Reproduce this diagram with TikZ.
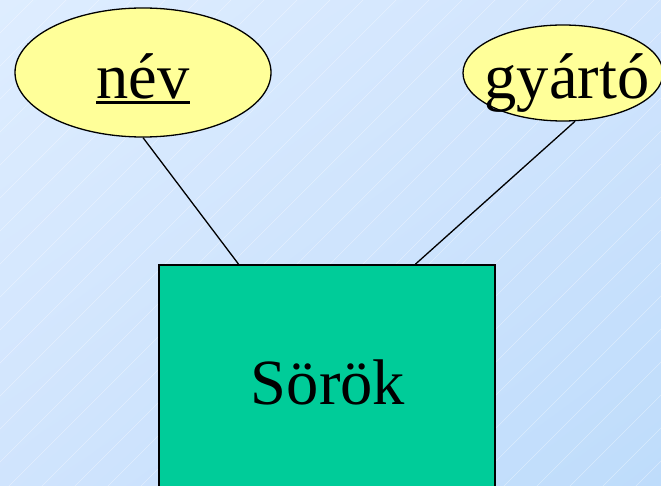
\documentclass[tikz,border=0pt]{standalone}
\usepackage{fontspec}
\setmainfont{Liberation Serif}
\usetikzlibrary{shapes.geometric,calc,shadings}
\definecolor{bgtl}{RGB}{222,237,255}
\definecolor{bgmid}{RGB}{208,228,253}
\definecolor{bgbr}{RGB}{190,220,251}
\definecolor{attrfill}{RGB}{255,255,153}
\definecolor{entfill}{RGB}{0,204,153}
\tikzset{
  attr/.style={ellipse, draw=black, line width=1.3pt, fill=attrfill, inner sep=0pt},
  entity/.style={rectangle, draw=black, line width=1.8pt, fill=entfill, inner sep=0pt},
  lbl/.style={anchor=base, inner sep=0pt, font=\fontsize{64.5}{70}\selectfont},
  link/.style={draw=black, line width=1.3pt},
  keyline/.style={draw=black, line width=3pt},
  stripe/.style={draw=white, opacity=0.4, line width=0.5pt}
}
\begin{document}
\begin{tikzpicture}[x=1pt,y=-1pt]
  \useasboundingbox (0,0) rectangle (661,486);
  \clip (0,0) rectangle (661,486);
  % background gradient with faint diagonal stripes
  \shade[upper left=bgtl, lower right=bgbr, upper right=bgmid, lower left=bgmid]
    (0,0) rectangle (661,486);
  \foreach \k in {-500,-467,...,700}
    \draw[stripe] (\k,500) -- (\k+520,-20);
  % attributes
  \node[attr, minimum width=256pt, minimum height=129pt] (nev) at (143,72.5) {};
  \node[lbl] (nevlbl) at (143,99) {név};
  \draw[keyline] ([yshift=-4pt]nevlbl.base west) -- ([yshift=-4pt]nevlbl.base east);
  \node[attr, minimum width=200pt, minimum height=96pt] (gyarto) at (563,73) {};
  \node[lbl] (gyartolbl) at (567,99) {gyártó};
  % entity
  \node[entity, minimum width=336pt, minimum height=260pt] (sor) at (327,395) {};
  \node[lbl] (sorlbl) at (328,404) {Sörök};
  % connectors
  \coordinate (sorA) at ($(sor.north west)!0.238!(sor.north east)$);
  \coordinate (sorB) at ($(sor.north west)!0.762!(sor.north east)$);
  \draw[link] (nev.south) -- (sorA);
  \draw[link] (gyarto.-76) -- (sorB);
\end{tikzpicture}
\end{document}
